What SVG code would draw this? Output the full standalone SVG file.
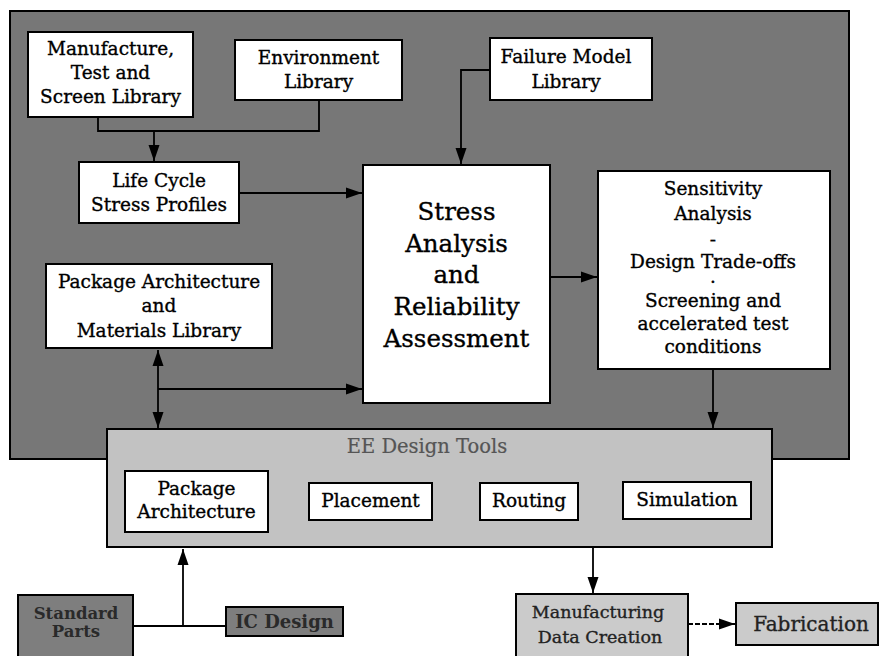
<svg xmlns="http://www.w3.org/2000/svg" width="880" height="656" viewBox="0 0 880 656">
<defs>
<style>
.t{font-family:"DejaVu Serif","Liberation Serif",serif;font-size:18.5px;fill:#000;stroke:#000;stroke-width:0.35;text-anchor:middle}
.big{font-size:24.5px}
.box{fill:#fff;stroke:#000;stroke-width:2}
.ln{fill:none;stroke:#000;stroke-width:1.8}
.dim{fill:#2a2a2a;stroke:none;font-weight:bold}
.gr{fill:#222;stroke:#222}
</style>
<marker id="ah" markerUnits="userSpaceOnUse" markerWidth="17" markerHeight="12" refX="16" refY="6" orient="auto-start-reverse" viewBox="0 0 17 12">
<path d="M0,0.5 L16,6 L0,11.5 z" fill="#000"/>
</marker>
</defs>
<rect width="880" height="656" fill="#fff"/>
<g id="background">
<rect x="10" y="11" width="839" height="448" fill="#777" stroke="#000" stroke-width="2"/>
</g>
<g id="ee-design-tools">
<rect x="107" y="429" width="665" height="118" fill="#c2c2c2" stroke="#000" stroke-width="2"/>
<text class="t" x="427" y="453" style="font-size:19.5px;fill:#555;stroke:#555;stroke-width:0.2">EE Design Tools</text>
</g>
<g id="connectors">
<path class="ln" d="M98 117 V131 H319 V100"/>
<path class="ln" d="M154 131 V161" marker-end="url(#ah)"/>
<path class="ln" d="M239 193 H362" marker-end="url(#ah)"/>
<path class="ln" d="M490 70 H461 V164" marker-end="url(#ah)"/>
<path class="ln" d="M550 277 H597" marker-end="url(#ah)"/>
<path class="ln" d="M158 350 V428" marker-start="url(#ah)" marker-end="url(#ah)"/>
<path class="ln" d="M158 389 H362" marker-end="url(#ah)"/>
<path class="ln" d="M713 369 V428" marker-end="url(#ah)"/>
<path class="ln" d="M133 626 H225"/>
<path class="ln" d="M183 626 V549" marker-end="url(#ah)"/>
<path class="ln" d="M593 548 V593" marker-end="url(#ah)"/>
<path class="ln" d="M688 624 H735" stroke-dasharray="5 2" marker-end="url(#ah)"/>
</g>
<g id="manufacture-library">
<rect class="box" x="28" y="32" width="165" height="85"/>
<text class="t" x="110.5" y="55">Manufacture,</text>
<text class="t" x="110.5" y="79">Test and</text>
<text class="t" x="110.5" y="103">Screen Library</text>
</g>
<g id="environment-library">
<rect class="box" x="235" y="40" width="167" height="60"/>
<text class="t" x="318.5" y="64">Environment</text>
<text class="t" x="318.5" y="88">Library</text>
</g>
<g id="failure-model-library">
<rect class="box" x="490" y="38" width="162" height="62"/>
<text class="t" x="566" y="63">Failure Model</text>
<text class="t" x="566" y="88">Library</text>
</g>
<g id="life-cycle">
<rect class="box" x="79" y="162" width="160" height="61"/>
<text class="t" x="159" y="187">Life Cycle</text>
<text class="t" x="159" y="211">Stress Profiles</text>
</g>
<g id="stress-analysis">
<rect class="box" x="363" y="165" width="187" height="238"/>
<text class="t big" x="456.5" y="220">Stress</text>
<text class="t big" x="456.5" y="252">Analysis</text>
<text class="t big" x="456.5" y="283">and</text>
<text class="t big" x="456.5" y="315">Reliability</text>
<text class="t big" x="456.5" y="347">Assessment</text>
</g>
<g id="package-library">
<rect class="box" x="46" y="264" width="226" height="84"/>
<text class="t" x="159" y="288">Package Architecture</text>
<text class="t" x="159" y="312">and</text>
<text class="t" x="159" y="337">Materials Library</text>
</g>
<g id="sensitivity">
<rect class="box" x="598" y="171" width="232" height="198"/>
<text class="t" x="713" y="195">Sensitivity</text>
<text class="t" x="713" y="220">Analysis</text>
<text class="t" x="713" y="246">-</text>
<text class="t" x="713" y="268">Design Trade-offs</text>
<text class="t" x="713" y="288">·</text>
<text class="t" x="713" y="307">Screening and</text>
<text class="t" x="713" y="330">accelerated test</text>
<text class="t" x="713" y="353">conditions</text>
</g>
<g id="package-architecture">
<rect class="box" x="125" y="471" width="143" height="61"/>
<text class="t" x="196.5" y="495">Package</text>
<text class="t" x="196.5" y="518">Architecture</text>
</g>
<g id="placement">
<rect class="box" x="309" y="483" width="123" height="37"/>
<text class="t" x="370.5" y="507">Placement</text>
</g>
<g id="routing">
<rect class="box" x="480" y="483" width="98" height="37"/>
<text class="t" x="529" y="507">Routing</text>
</g>
<g id="simulation">
<rect class="box" x="623" y="482" width="128" height="37"/>
<text class="t" x="687" y="506">Simulation</text>
</g>
<g id="standard-parts">
<rect x="18" y="595" width="115" height="70" fill="#7e7e7e" stroke="#000" stroke-width="2"/>
<text class="t dim" x="76" y="619" style="font-size:16.5px">Standard</text>
<text class="t dim" x="76" y="637" style="font-size:16.5px">Parts</text>
</g>
<g id="ic-design">
<rect x="226" y="607" width="117" height="29" fill="#7e7e7e" stroke="#000" stroke-width="2"/>
<text class="t dim" x="284.5" y="628" style="font-size:18px">IC Design</text>
</g>
<g id="manufacturing-data">
<rect x="516" y="594" width="172" height="70" fill="#cbcbcb" stroke="#000" stroke-width="2"/>
<text class="t gr" x="598" y="618" style="font-size:17.5px">Manufacturing</text>
<text class="t gr" x="600" y="643" style="font-size:17.5px">Data Creation</text>
</g>
<g id="fabrication">
<rect x="736" y="603" width="142" height="42" fill="#cbcbcb" stroke="#000" stroke-width="2"/>
<text class="t gr" x="811" y="631" style="font-size:20px">Fabrication</text>
</g>
</svg>
